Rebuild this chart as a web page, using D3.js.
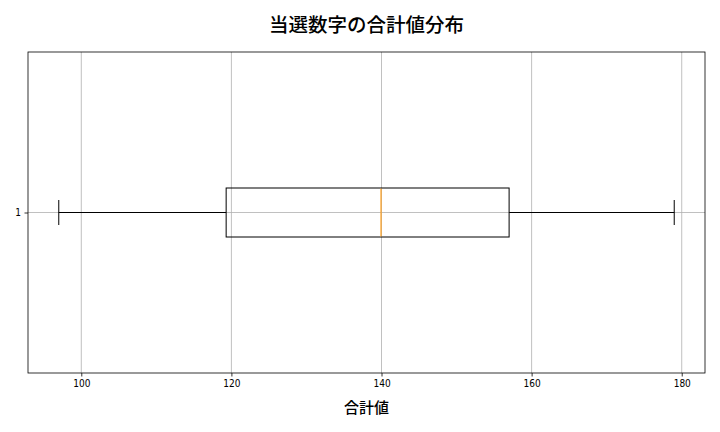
<!DOCTYPE html>
<html>
<head>
<meta charset="utf-8">
<script src="https://cdn.jsdelivr.net/npm/d3@7"></script>
<style>
  body { margin: 0; background: #fff; }
  text { font-family: "Noto Sans CJK JP", "Noto Sans", sans-serif; }
</style>
</head>
<body>
<div id="chart"></div>
<script>
// summary values of the box plot
let categories = ["1"];
let whiskerLow = [97];
let q1 = [119.3];
let median = [140];
let q3 = [157];
let whiskerHigh = [179];
let xTicks = [100, 120, 140, 160, 180];

let svgWidth = 720;
let svgHeight = 432;

let margin = {
  top: 52,
  right: 15,
  bottom: 59,
  left: 28
};

let width = svgWidth - margin.left - margin.right;
let height = svgHeight - margin.top - margin.bottom;

let svg = d3.select("#chart")
  .append("svg")
  .attr("width", svgWidth)
  .attr("height", svgHeight);

let chartGroup = svg.append("g")
  .attr("transform", `translate(${margin.left}, ${margin.top})`);

// matplotlib style 5% padding around the data range
let lo = d3.min(whiskerLow), hi = d3.max(whiskerHigh);
let pad = (hi - lo) * 0.05;

let xScale = d3.scaleLinear()
  .domain([lo - pad, hi + pad])
  .range([0, width]);

let yScale = d3.scalePoint()
  .domain(categories)
  .range([0, height])
  .padding(0.5);

// grid
chartGroup.append("g")
  .selectAll("line")
  .data(xTicks)
  .enter()
  .append("line")
  .attr("x1", d => xScale(d))
  .attr("x2", d => xScale(d))
  .attr("y1", 0)
  .attr("y2", height)
  .attr("stroke", "#b0b0b0")
  .attr("stroke-width", 0.8);

chartGroup.append("g")
  .selectAll("line")
  .data(categories)
  .enter()
  .append("line")
  .attr("x1", 0)
  .attr("x2", width)
  .attr("y1", d => yScale(d))
  .attr("y2", d => yScale(d))
  .attr("stroke", "#b0b0b0")
  .attr("stroke-width", 0.8);

// axes
let bottomAxis = d3.axisBottom(xScale).tickValues(xTicks).tickSize(3.5).tickPadding(3.5);
let leftAxis = d3.axisLeft(yScale).tickSize(3.5).tickPadding(3.5);

let gx = chartGroup.append("g")
  .attr("transform", `translate(0, ${height})`)
  .call(bottomAxis);

let gy = chartGroup.append("g")
  .call(leftAxis);

[gx, gy].forEach(g => {
  g.select(".domain").remove();
  g.selectAll(".tick line").attr("stroke", "#000").attr("stroke-width", 0.8);
  g.selectAll(".tick text")
    .attr("fill", "#000")
    .style("font-size", "10px")
    .style("font-family", "'Liberation Sans Narrow', 'DejaVu Sans Condensed', 'Noto Sans CJK JP', sans-serif");
});

// frame
chartGroup.append("rect")
  .attr("width", width)
  .attr("height", height)
  .attr("fill", "none")
  .attr("stroke", "#000")
  .attr("stroke-width", 0.8);

// box plot
let boxH = 49;
let capH = 25;
let boxes = chartGroup.selectAll("g.box")
  .data(categories)
  .enter()
  .append("g")
  .attr("class", "box");

boxes.append("line")
  .attr("x1", (d, i) => xScale(whiskerLow[i]))
  .attr("x2", (d, i) => xScale(q1[i]))
  .attr("y1", d => yScale(d))
  .attr("y2", d => yScale(d))
  .attr("stroke", "#000");

boxes.append("line")
  .attr("x1", (d, i) => xScale(q3[i]))
  .attr("x2", (d, i) => xScale(whiskerHigh[i]))
  .attr("y1", d => yScale(d))
  .attr("y2", d => yScale(d))
  .attr("stroke", "#000");

boxes.append("line")
  .attr("x1", (d, i) => xScale(whiskerLow[i]))
  .attr("x2", (d, i) => xScale(whiskerLow[i]))
  .attr("y1", d => yScale(d) - capH / 2)
  .attr("y2", d => yScale(d) + capH / 2)
  .attr("stroke", "#000");

boxes.append("line")
  .attr("x1", (d, i) => xScale(whiskerHigh[i]))
  .attr("x2", (d, i) => xScale(whiskerHigh[i]))
  .attr("y1", d => yScale(d) - capH / 2)
  .attr("y2", d => yScale(d) + capH / 2)
  .attr("stroke", "#000");

boxes.append("rect")
  .attr("x", (d, i) => xScale(q1[i]))
  .attr("width", (d, i) => xScale(q3[i]) - xScale(q1[i]))
  .attr("y", d => yScale(d) - boxH / 2)
  .attr("height", boxH)
  .attr("fill", "none")
  .attr("stroke", "#000");

boxes.append("line")
  .attr("x1", (d, i) => xScale(median[i]) - 0.5)
  .attr("x2", (d, i) => xScale(median[i]) - 0.5)
  .attr("y1", d => yScale(d) - boxH / 2 + 0.5)
  .attr("y2", d => yScale(d) + boxH / 2 - 0.5)
  .attr("stroke", "#ff9e1b")
  .attr("stroke-width", 1.2);

// title and axis label
svg.append("text")
  .attr("x", margin.left + width / 2)
  .attr("y", 32)
  .attr("text-anchor", "middle")
  .style("font-size", "19.5px")
  .style("font-weight", "500")
  .text("当選数字の合計値分布");

svg.append("text")
  .attr("x", margin.left + width / 2)
  .attr("y", 413)
  .attr("text-anchor", "middle")
  .style("font-size", "15px")
  .style("font-weight", "500")
  .text("合計値");
</script>
</body>
</html>
